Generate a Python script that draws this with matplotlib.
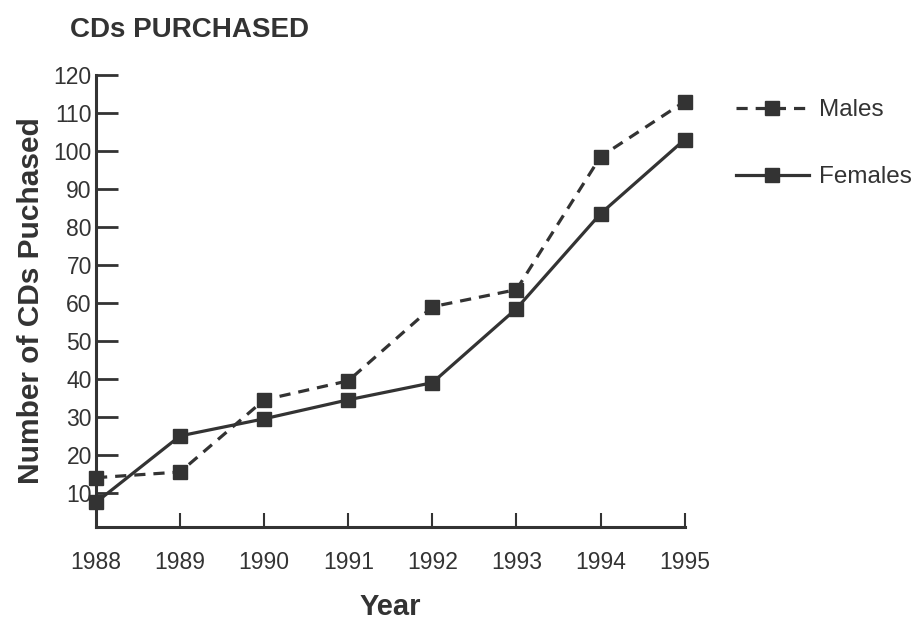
import matplotlib.pyplot as plt

plt.rcParams['font.family'] = ['Liberation Sans', 'DejaVu Sans']

# Data
years = [1988, 1989, 1990, 1991, 1992, 1993, 1994, 1995]
males = [14, 15.5, 34.5, 39.5, 59, 63.5, 98.5, 113]
females = [7.5, 25, 29.5, 34.5, 39, 58.5, 83.5, 103]
yticks = [10, 20, 30, 40, 50, 60, 70, 80, 90, 100, 110, 120]

ink = '#333333'

fig = plt.figure(figsize=(9.19, 6.23), dpi=100)
ax = fig.add_axes([0.1045, 0.154, 0.6405, 0.7256])

ax.plot(years, males, color=ink, lw=2.3, ls=(0, (3.5, 2.5)), marker='s',
        ms=10, clip_on=False, label='Males')
ax.plot(years, females, color=ink, lw=2.3, marker='s', ms=10,
        clip_on=False, label='Females')

ax.set_xlim(1988, 1995)
ax.set_ylim(1, 120)
ax.set_xticks(years)
ax.set_yticks(yticks)
ax.tick_params(axis='y', direction='in', length=16, width=2, color=ink,
               labelsize=16.5, labelcolor=ink, pad=3)
ax.tick_params(axis='x', direction='in', length=10, width=1.5, color=ink,
               labelsize=16.5, labelcolor=ink, pad=17)
ax.xaxis.get_major_ticks()[0].tick1line.set_visible(False)

for s in ['top', 'right']:
    ax.spines[s].set_visible(False)
for s in ['left', 'bottom']:
    ax.spines[s].set_linewidth(2.2)
    ax.spines[s].set_color(ink)

ax.set_xlabel('Year', fontsize=21, fontweight='bold', color=ink, labelpad=14)
ax.set_ylabel('Number of CDs Puchased', fontsize=21.5, fontweight='bold',
              color=ink, labelpad=6)
fig.text(0.076, 0.952, 'CDs PURCHASED', fontsize=20, fontweight='bold',
         color=ink, va='center')

ax.legend(loc='upper left', bbox_to_anchor=(1.05, 0.995), frameon=False,
          handlelength=3.0, labelspacing=1.85, fontsize=17.5, labelcolor=ink,
          handletextpad=0.4)

fig.savefig('out.png')
